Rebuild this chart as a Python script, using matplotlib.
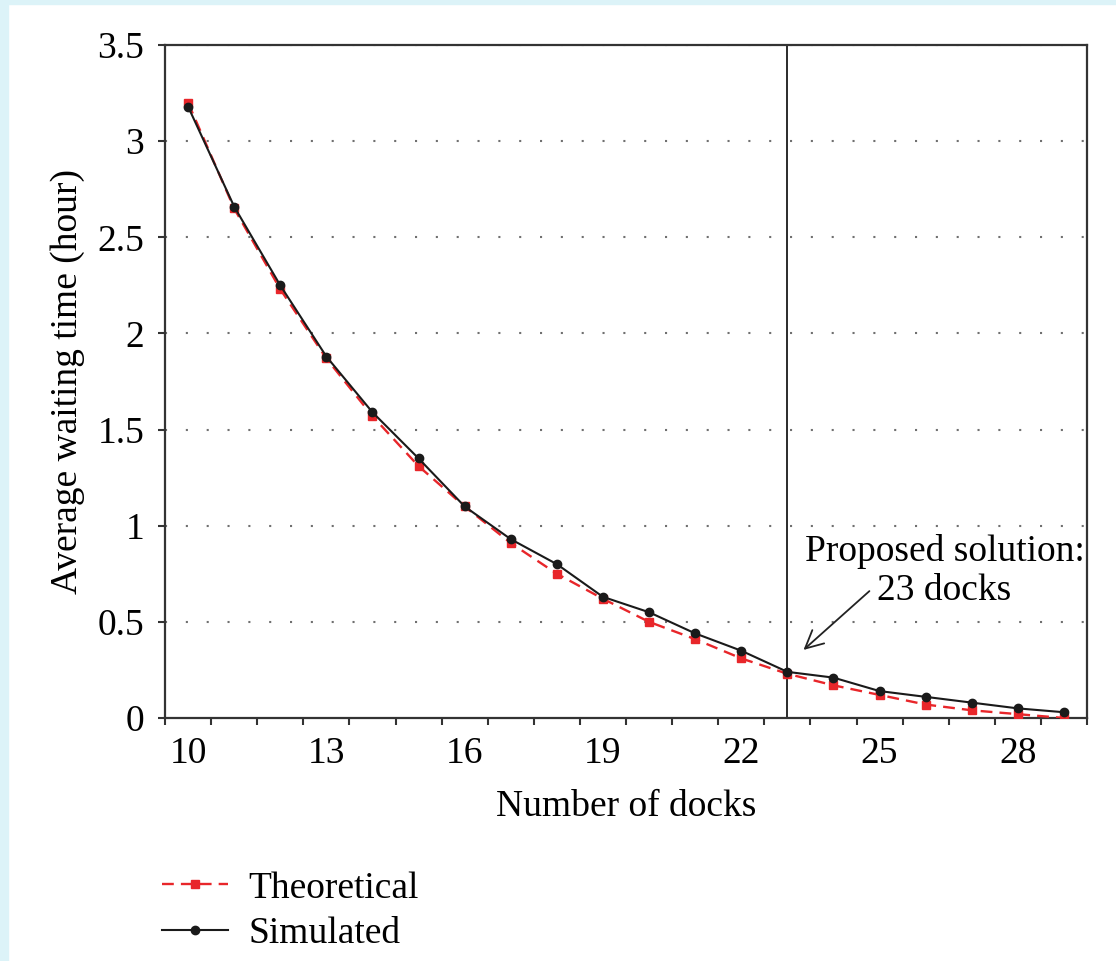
import numpy as np
import matplotlib.pyplot as plt
from matplotlib.lines import Line2D

# values
docks = np.arange(10, 30)
theoretical = [3.20, 2.65, 2.23, 1.87, 1.57, 1.31, 1.10, 0.91, 0.75, 0.62,
               0.50, 0.41, 0.31, 0.23, 0.17, 0.12, 0.07, 0.04, 0.02, 0.00]
simulated = [3.18, 2.66, 2.25, 1.88, 1.59, 1.35, 1.10, 0.93, 0.80, 0.63,
             0.55, 0.44, 0.35, 0.24, 0.21, 0.14, 0.11, 0.08, 0.05, 0.03]
proposed = 23
xtick_vals = [10, 13, 16, 19, 22, 25, 28]
ytick_vals = [0, 0.5, 1, 1.5, 2, 2.5, 3, 3.5]
ytick_labels = ['0', '0.5', '1', '1.5', '2', '2.5', '3', '3.5']

plt.rcParams['font.family'] = ['Liberation Serif', 'DejaVu Serif']
fs = 27

fig = plt.figure(figsize=(11.16, 9.61), dpi=100)
fig.patch.set_facecolor('white')
# light cyan page border on the left and top
fig.patches.append(plt.Rectangle((0, 0), 8 / 1116, 1, transform=fig.transFigure,
                                 color='#dcf3f8', zorder=-10))
fig.patches.append(plt.Rectangle((0, 1 - 4 / 961), 1, 4 / 961, transform=fig.transFigure,
                                 color='#dcf3f8', zorder=-10))

ax = fig.add_axes([165 / 1116, 1 - 718 / 961, (1087 - 165) / 1116, (718 - 45) / 961])

# dotted horizontal grid
for yv in ytick_vals[1:]:
    ax.axhline(yv, color='#707070', lw=1.5, ls=(0, (1, 9)), zorder=1)

ax.plot(docks, theoretical, color='#e8262a', ls=(0, (5, 3)), lw=1.7,
        marker='s', ms=5.5, zorder=3, label='Theoretical')
ax.plot(docks, simulated, color='#1a1a1a', lw=1.5, marker='o', ms=6,
        zorder=4, label='Simulated')

ax.axvline(proposed, color='#1a1a1a', lw=1.3, zorder=2)

ax.set_xlim(9.5, 29.5)
ax.set_ylim(0, 3.5)

ax.set_xticks(xtick_vals)
ax.set_xticklabels([str(v) for v in xtick_vals], fontsize=fs)
ax.set_xticks(np.arange(9.5, 30, 1), minor=True)
ax.tick_params(axis='x', which='major', length=0, pad=13)
ax.tick_params(axis='x', which='minor', length=5, width=1.5, direction='out', color='#333333')

ax.set_yticks(ytick_vals)
ax.set_yticklabels(ytick_labels, fontsize=fs)
ax.tick_params(axis='y', length=5, width=1.5, direction='out', color='#333333', pad=10)

for s in ax.spines.values():
    s.set_linewidth(1.6)
    s.set_color('#333333')

ax.set_xlabel('Number of docks', fontsize=fs, labelpad=14)
ax.set_ylabel('Average waiting time (hour)', fontsize=fs)
ax.yaxis.set_label_coords(-0.087, 0.5)

ax.text(26.41, 0.764, 'Proposed solution:\n23 docks', fontsize=fs,
        ha='center', va='center', linespacing=1.15, zorder=5)
ax.annotate('', xy=(23.35, 0.354), xytext=(24.78, 0.66),
            arrowprops=dict(arrowstyle='->', color='#222222', lw=1.3,
                            mutation_scale=32, shrinkA=0, shrinkB=0))

handles = [Line2D([], [], color='#e8262a', ls=(0, (5, 3)), lw=1.7, marker='s', ms=5.5),
           Line2D([], [], color='#1a1a1a', lw=1.5, marker='o', ms=6)]
fig.legend(handles, ['Theoretical', 'Simulated'], loc='upper left',
           bbox_to_anchor=(162 / 1116, 1 - 871 / 961), frameon=False,
           fontsize=fs, handlelength=1.75, handletextpad=0.55, labelspacing=0.3,
           borderpad=0, borderaxespad=0)

fig.savefig('out.png', dpi=100)
